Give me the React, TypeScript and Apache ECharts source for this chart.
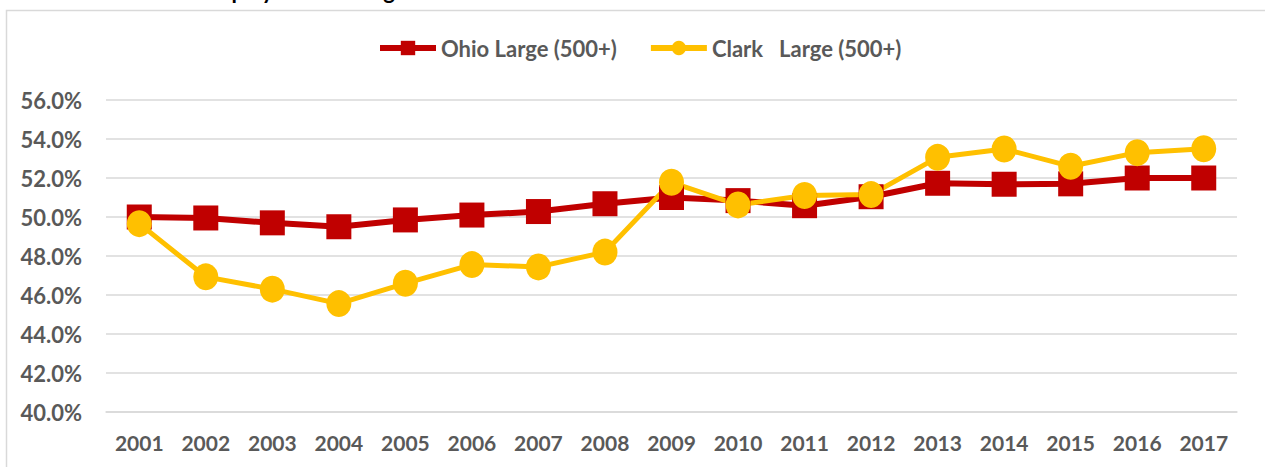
import React, { useEffect, useRef } from "react";
import * as echarts from "echarts";

const years = ["2001","2002","2003","2004","2005","2006","2007","2008","2009","2010","2011","2012","2013","2014","2015","2016","2017"];
const ohioLarge = [50.0, 49.95, 49.7, 49.5, 49.85, 50.1, 50.28, 50.68, 51.0, 50.84, 50.58, 51.04, 51.73, 51.68, 51.7, 52.0, 52.0];
const clarkLarge = [49.66, 46.93, 46.3, 45.56, 46.6, 47.56, 47.44, 48.2, 51.78, 50.62, 51.1, 51.15, 53.06, 53.49, 52.6, 53.3, 53.5];
const seriesNames = ["Ohio Large (500+)", "Clark   Large (500+)"];
const titleText = "Share of Employment in Large Firms";

const FONT = "Lato, 'Open Sans', sans-serif";
const GREY = "#595959";

export default function App() {
  const ref = useRef<HTMLDivElement>(null);
  useEffect(() => {
    if (!ref.current) return;
    const chart = echarts.init(ref.current, null, { renderer: "svg" });
    chart.setOption({
      animation: false,
      backgroundColor: "#ffffff",
      graphic: [
        {
          type: "rect",
          shape: { x: 6.5, y: 10.5, width: 1400, height: 600 },
          style: { fill: "none", stroke: "#D9D9D9", lineWidth: 1.5 },
          silent: true,
          z: -1,
        },
        {
          type: "text",
          x: 115,
          y: 1,
          style: {
            text: titleText,
            font: `bold 22px ${FONT}`,
            fill: "#000000",
            verticalAlign: "bottom",
          },
        },
      ],
      legend: {
        top: 32,
        left: 372,
        itemGap: 31,
        itemWidth: 56,
        itemHeight: 18,
        lineStyle: { width: 6 },
        textStyle: { color: GREY, fontFamily: FONT, fontWeight: "bold", fontSize: 22 },
        data: seriesNames,
      },
      grid: { left: 106, right: 28, top: 100, bottom: 55 },
      xAxis: {
        type: "category",
        data: years,
        boundaryGap: true,
        axisLine: { show: true, lineStyle: { color: "#D9D9D9", width: 1.5 } },
        axisTick: { show: false },
        axisLabel: { color: GREY, fontFamily: FONT, fontWeight: "bold", fontSize: 21, margin: 20 },
      },
      yAxis: {
        type: "value",
        min: 40,
        max: 56,
        interval: 2,
        axisLine: { show: false },
        axisTick: { show: false },
        splitLine: { lineStyle: { color: "#D9D9D9", width: 1.5 } },
        axisLabel: {
          color: GREY,
          fontFamily: FONT,
          fontWeight: "bold",
          fontSize: 22,
          margin: 24,
          formatter: (v: number) => v.toFixed(1) + "%",
        },
      },
      series: [
        {
          name: seriesNames[0],
          type: "line",
          data: ohioLarge,
          symbol: "rect",
          symbolSize: 25,
          itemStyle: { color: "#C00000" },
          lineStyle: { color: "#C00000", width: 6 },
        },
        {
          name: seriesNames[1],
          type: "line",
          data: clarkLarge,
          symbol: "circle",
          symbolSize: [25, 27],
          itemStyle: { color: "#FFC000" },
          lineStyle: { color: "#FFC000", width: 5 },
        },
      ],
    });
    return () => chart.dispose();
  }, []);
  return (
    <div
      ref={ref}
      style={{ position: "absolute", left: 0, top: 0, width: 1265, height: 467 }}
    />
  );
}
